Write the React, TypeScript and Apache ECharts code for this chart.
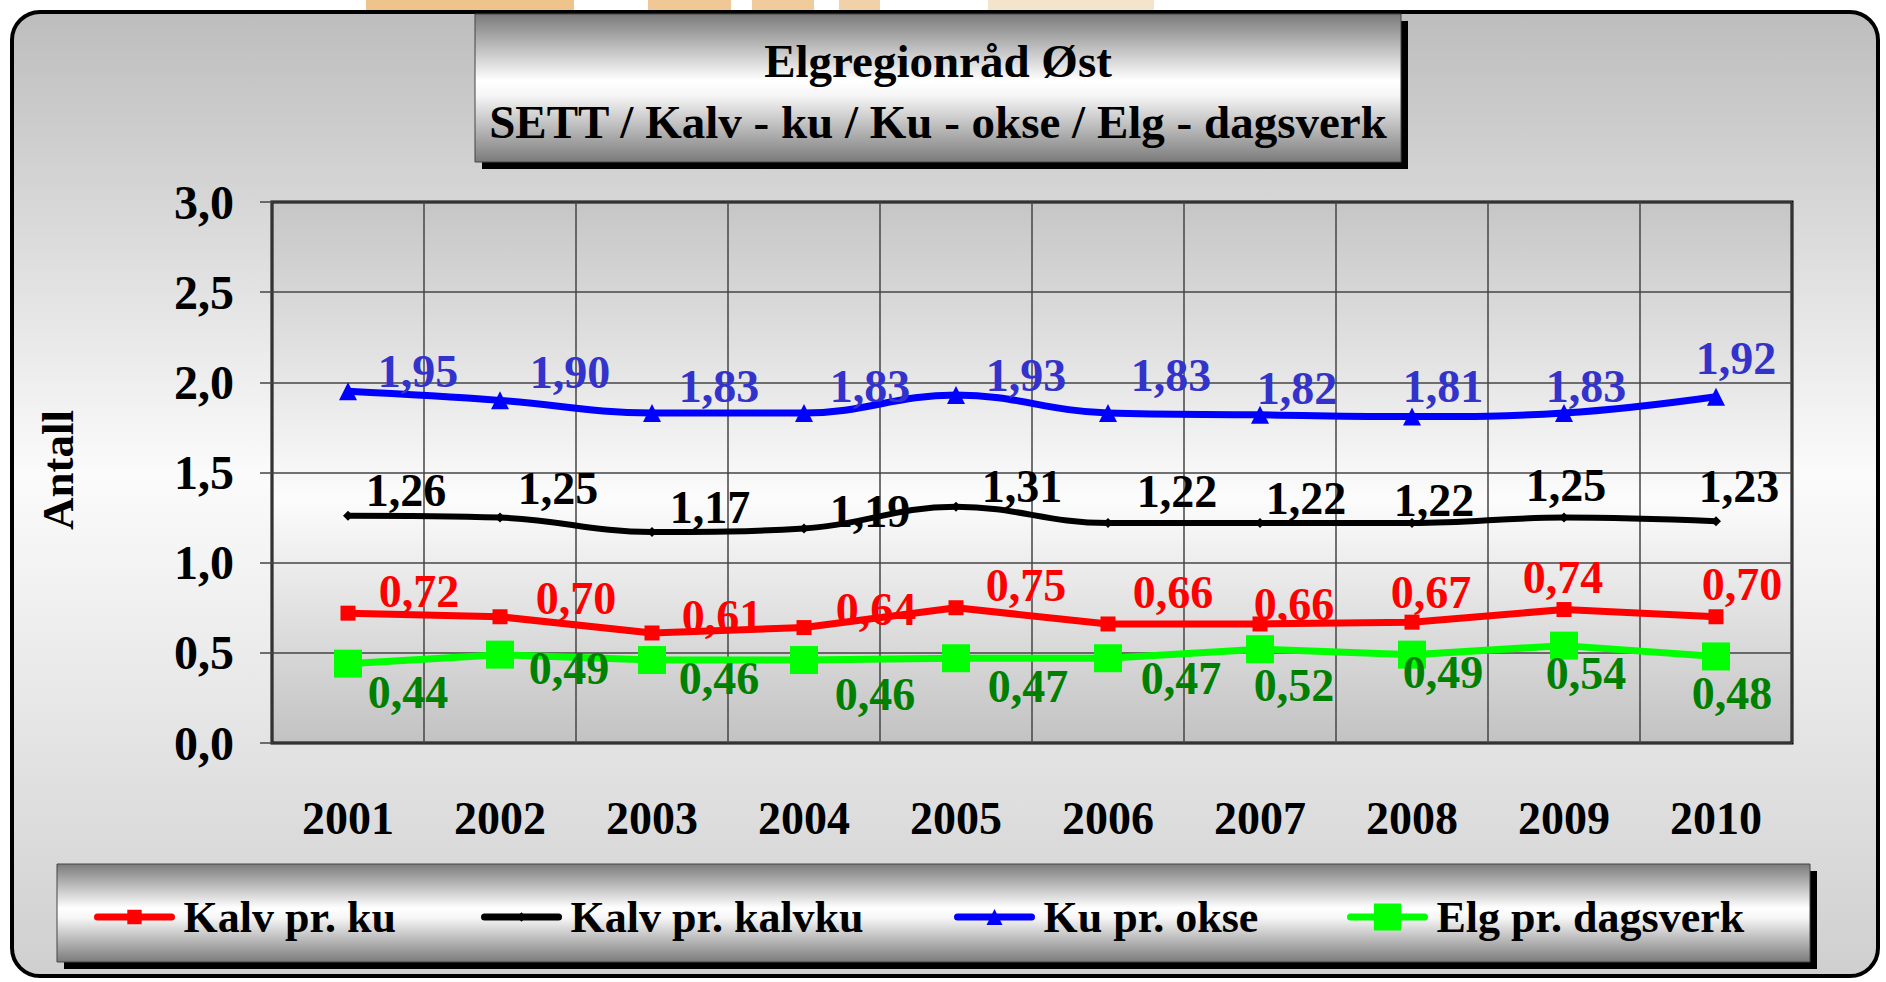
import React, { useEffect, useRef } from 'react';
import * as echarts from 'echarts';

const years = ['2001', '2002', '2003', '2004', '2005', '2006', '2007', '2008', '2009', '2010'];
const seriesNames = ['Kalv pr. ku', 'Kalv pr. kalvku', 'Ku pr. okse', 'Elg pr. dagsverk'];
const kalvPrKu = [0.72, 0.70, 0.61, 0.64, 0.75, 0.66, 0.66, 0.67, 0.74, 0.70];
const kalvPrKalvku = [1.26, 1.25, 1.17, 1.19, 1.31, 1.22, 1.22, 1.22, 1.25, 1.23];
const kuPrOkse = [1.95, 1.90, 1.83, 1.83, 1.93, 1.83, 1.82, 1.81, 1.83, 1.92];
const elgPrDagsverk = [0.44, 0.49, 0.46, 0.46, 0.47, 0.47, 0.52, 0.49, 0.54, 0.48];
const titleLines = ['Elgregionråd Øst', 'SETT / Kalv - ku / Ku - okse / Elg - dagsverk'];
const yAxisTitle = 'Antall';
const yMin = 0;
const yMax = 3;
const yStep = 0.5;

// label placement (style only)
const redLabelOffsets = [[71, -22], [76, -18], [70, -16], [72, -18], [70, -22], [65, -31], [34, -19], [19, -30], [-1, -32], [26, -32]];
const blackLabelOffsets = [[58, -25], [58, -29], [58, -25], [66, -17], [66, -20], [69, -31], [46, -24], [22, -22], [2, -32], [23, -35]];
const blueLabelOffsets = [[70, -20], [70, -28], [67, -26], [66, -26], [70, -19], [63, -37], [37, -26], [31, -30], [22, -26], [20, -38]];
const greenLabelOffsets = [[60, 29], [69, 14], [67, 18], [71, 34], [72, 28], [73, 20], [34, 36], [31, 18], [22, 28], [16, 37]];

const FONT = '"Liberation Serif", "Times New Roman", Times, serif';

const fmt = (v: number, d: number) => v.toFixed(d).replace('.', ',');

export default function App() {
  const ref = useRef<HTMLDivElement>(null);
  useEffect(() => {
    const chart = echarts.init(ref.current as HTMLDivElement, null, { renderer: 'svg' });
    const vgrad = (stops: [number, string][]) =>
      new echarts.graphic.LinearGradient(0, 0, 0, 1, stops.map(([o, c]) => ({ offset: o, color: c })));
    const boxGrad = () => vgrad([[0, '#7b7b7b'], [0.45, '#ffffff'], [0.55, '#f6f6f6'], [1, '#7b7b7b']]);

    const defs = [
      { name: seriesNames[0], data: kalvPrKu, color: '#ff0000', labelColor: '#ff0000', symbol: 'rect', symbolSize: 15, width: 7, smooth: false, offsets: redLabelOffsets, legendH: 18, legendLeft: 94 },
      { name: seriesNames[1], data: kalvPrKalvku, color: '#000000', labelColor: '#000000', symbol: 'diamond', symbolSize: 10, width: 6, smooth: 0.4, offsets: blackLabelOffsets, legendH: 12, legendLeft: 481 },
      { name: seriesNames[2], data: kuPrOkse, color: '#0000ff', labelColor: '#3333cc', symbol: 'triangle', symbolSize: 18, width: 7, smooth: 0.4, offsets: blueLabelOffsets, legendH: 20, legendLeft: 954 },
      { name: seriesNames[3], data: elgPrDagsverk, color: '#00ff00', labelColor: '#008000', symbol: 'rect', symbolSize: 28, width: 7, smooth: false, offsets: greenLabelOffsets, legendH: 34, legendLeft: 1347 },
    ];

    const titleFont = { fontFamily: FONT, fontWeight: 'bold', fontSize: 47, fill: '#000' };
    const bgBits: [number, number, string][] = [[366, 574, '#eec48c'], [648, 731, '#efc895'], [752, 814, '#f0cc9c'], [839, 880, '#f1d2a8'], [988, 1154, '#f5e4cc']];

    chart.setOption({
      animation: false,
      backgroundColor: '#ffffff',
      graphic: {
        elements: [
          ...bgBits.map(([a, b, c]) => ({ type: 'rect', z: -30, shape: { x: a, y: 0, width: b - a, height: 14 }, style: { fill: c } })),
          { type: 'rect', z: -20, shape: { x: 12, y: 12, width: 1866, height: 964, r: 28 }, style: { fill: vgrad([[0, '#bdbdbd'], [0.48, '#fbfbfb'], [1, '#cfcfcf']]), stroke: '#000', lineWidth: 4 } },
          { type: 'rect', z: -15, shape: { x: 482, y: 21, width: 926, height: 148 }, style: { fill: '#000' } },
          { type: 'rect', z: -14, shape: { x: 475, y: 14, width: 926, height: 148 }, style: { fill: boxGrad(), stroke: '#444', lineWidth: 1 } },
          { type: 'text', z: 10, x: 938, y: 61, style: { ...titleFont, text: titleLines[0], textAlign: 'center', textVerticalAlign: 'middle' } },
          { type: 'text', z: 10, x: 938, y: 122, style: { ...titleFont, text: titleLines[1], textAlign: 'center', textVerticalAlign: 'middle' } },
          { type: 'rect', z: -15, shape: { x: 64, y: 871, width: 1753, height: 98 }, style: { fill: '#000' } },
          { type: 'rect', z: -14, shape: { x: 57, y: 864, width: 1753, height: 98 }, style: { fill: boxGrad(), stroke: '#444', lineWidth: 1 } },
          { type: 'text', z: 10, x: 58, y: 470, rotation: Math.PI / 2, style: { text: yAxisTitle, fontFamily: FONT, fontWeight: 'bold', fontSize: 45, fill: '#000', textAlign: 'center', textVerticalAlign: 'middle' } },
        ],
      },
      grid: {
        left: 272, top: 202, width: 1520, height: 541,
        show: true,
        backgroundColor: { type: 'linear', x: 0, y: 0, x2: 0, y2: 1, colorStops: [{ offset: 0, color: '#c6c6c6' }, { offset: 0.55, color: '#fcfcfc' }, { offset: 1, color: '#c2c2c2' }] },
        borderColor: '#000', borderWidth: 3,
      },
      legend: defs.map((s) => ({
        data: [s.name],
        left: s.legendLeft,
        top: 895,
        padding: 0,
        itemWidth: 74,
        itemHeight: s.legendH,
        selectedMode: false,
        lineStyle: { width: 7, cap: 'round' },
        textStyle: { fontFamily: FONT, fontWeight: 'bold', fontSize: 44, color: '#000', padding: [0, 0, 0, 7] },
      })),
      xAxis: {
        type: 'category',
        data: years,
        boundaryGap: true,
        axisLine: { show: false },
        axisTick: { show: false },
        splitLine: { show: true, interval: 0, lineStyle: { color: '#444', width: 1.5 } },
        axisLabel: { interval: 0, margin: 52, fontFamily: FONT, fontWeight: 'bold', fontSize: 46, color: '#000' },
      },
      yAxis: {
        type: 'value',
        min: yMin, max: yMax, interval: yStep,
        axisLine: { show: false },
        axisTick: { show: true, length: 12, lineStyle: { color: '#444', width: 1.5 } },
        splitLine: { show: true, lineStyle: { color: '#444', width: 1.5 } },
        axisLabel: { margin: 38, fontFamily: FONT, fontWeight: 'bold', fontSize: 48, color: '#000', formatter: (v: number) => fmt(v, 1) },
      },
      series: defs.map((s) => ({
        type: 'line',
        name: s.name,
        data: s.data.map((v, i) => ({ value: v, label: { offset: s.offsets[i] } })),
        symbol: s.symbol,
        symbolSize: s.symbolSize,
        smooth: s.smooth,
        lineStyle: { color: s.color, width: s.width },
        itemStyle: { color: s.color },
        label: {
          show: true,
          position: 'inside',
          align: 'center',
          verticalAlign: 'middle',
          formatter: (p: any) => fmt(p.value as number, 2),
          color: s.labelColor,
          fontFamily: FONT,
          fontWeight: 'bold',
          fontSize: 46,
        },
      })),
    });
    return () => chart.dispose();
  }, []);
  return <div ref={ref} style={{ position: 'absolute', left: 0, top: 0, width: 1886, height: 982 }} />;
}
